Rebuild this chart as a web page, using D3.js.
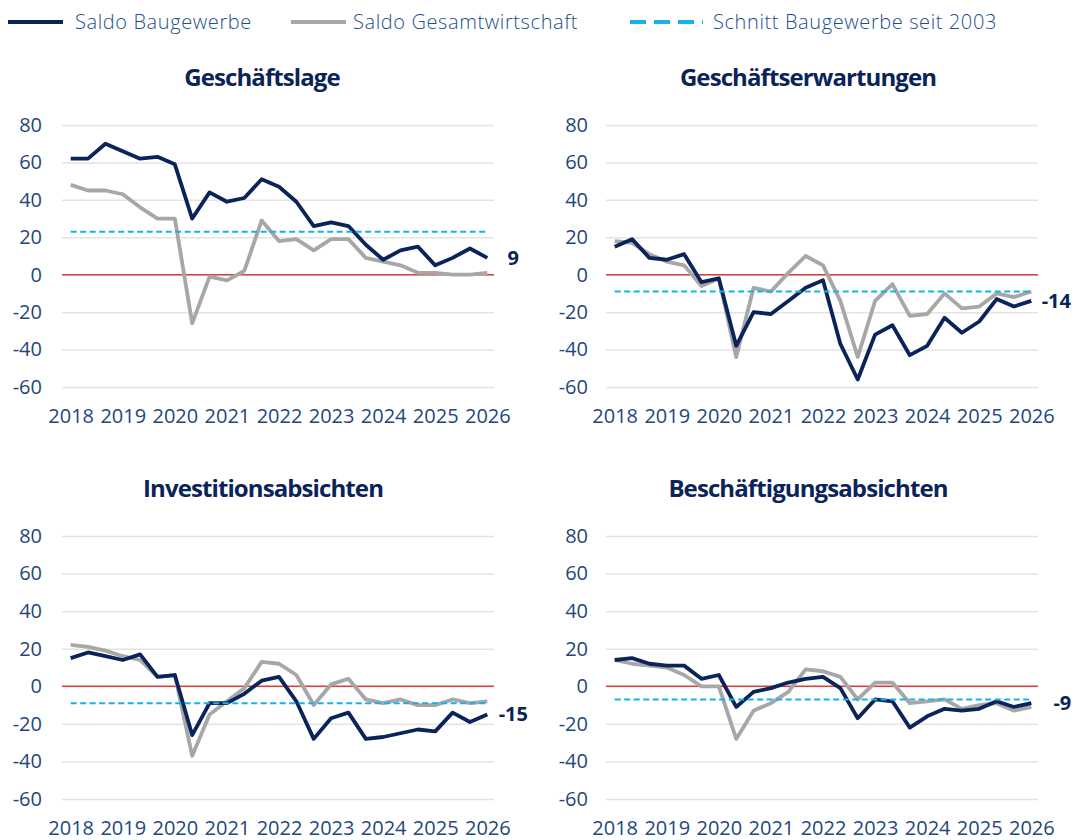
<!DOCTYPE html>
<html>
<head>
<meta charset="utf-8">
<script src="https://cdn.jsdelivr.net/npm/d3@7"></script>
<style>
  body { margin: 0; background: #fff; }
  svg text { font-family: "Open Sans", sans-serif; }
</style>
</head>
<body>
<div id="vis"></div>
<script>
// Survey waves: 3 per year (start of year, early summer, autumn), 2018 to start of 2026
var periods = [];
for (var yr = 2018; yr <= 2026; yr++) {
    periods.push(yr + "-1");
    if (yr < 2026) { periods.push(yr + "-2"); periods.push(yr + "-3"); }
}
var yearTicks = ["2018","2019","2020","2021","2022","2023","2024","2025","2026"];
var yTicks = [80, 60, 40, 20, 0, -20, -40, -60];

var titles = ["Geschäftslage", "Geschäftserwartungen", "Investitionsabsichten", "Beschäftigungsabsichten"];
var legendLabels = ["Saldo Baugewerbe", "Saldo Gesamtwirtschaft", "Schnitt Baugewerbe seit 2003"];

// Saldo Baugewerbe
var lageBau = [62,62,70,66,62,63,59,30,44,39,41,51,47,39,26,28,26,16,8,13,15,5,9,14,9];
var erwBau  = [15,19,9,8,11,-4,-2,-38,-20,-21,-14,-7,-3,-37,-56,-32,-27,-43,-38,-23,-31,-25,-13,-17,-14];
var invBau  = [15,18,16,14,17,5,6,-26,-9,-9,-4,3,5,-8,-28,-17,-14,-28,-27,-25,-23,-24,-14,-19,-15];
var beschBau = [14,15,12,11,11,4,6,-11,-3,-1,2,4,5,-1,-17,-7,-8,-22,-16,-12,-13,-12,-8,-11,-9];

// Saldo Gesamtwirtschaft
var lageGes = [48,45,45,43,36,30,30,-26,-1,-3,2,29,18,19,13,19,19,9,7,5,1,1,0,0,1];
var erwGes  = [18,17,11,7,5,-6,-2,-44,-7,-9,1,10,5,-14,-44,-14,-5,-22,-21,-10,-18,-17,-10,-12,-9];
var invGes  = [22,21,19,16,14,5,6,-37,-15,-8,-1,13,12,6,-10,1,4,-7,-9,-7,-10,-10,-7,-9,-8];
var beschGes = [14,12,11,10,6,0,0,-28,-13,-9,-3,9,8,5,-7,2,2,-9,-8,-7,-12,-10,-9,-13,-11];

// Schnitt Baugewerbe seit 2003
var avgBau = [23, -9, -9, -7];

var navyData = [lageBau, erwBau, invBau, beschBau];
var grayData = [lageGes, erwGes, invGes, beschGes];

var width = 1072, height = 840;
var navy = "#0a2459", gray = "#a7a7a7", cyan = "#17b2e6", red = "#d9403d",
    grid = "#e3e3e3", tickColor = "#24477a";

var svg = d3.select("#vis").append("svg")
    .attr("width", width)
    .attr("height", height);

// panel frames: gridline extents, plot top/bottom, end-label offset
var panels = [
    {x0: 62, x1: 496, top: 125, bottom: 387, labelX: 42, titleX: 262, titleY: 86, endDx: 26},
    {x0: 606, x1: 1040, top: 125, bottom: 387, labelX: 588, titleX: 808, titleY: 86, endDx: 25},
    {x0: 62, x1: 496, top: 536, bottom: 799, labelX: 42, titleX: 263, titleY: 497, endDx: 26},
    {x0: 606, x1: 1040, top: 536, bottom: 799, labelX: 588, titleX: 808, titleY: 497, endDx: 31}
];

panels.forEach(function(p, i) {
    var x = d3.scalePoint().domain(periods).range([p.x0, p.x1]).padding(0.5);
    var y = d3.scaleLinear().domain([-60, 80]).range([p.bottom, p.top]);
    var g = svg.append("g");

    // gridlines + y labels
    var yAxis = g.append("g")
        .attr("transform", "translate(" + p.x0 + ",0)")
        .call(d3.axisLeft(y).tickValues(yTicks).tickSize(-(p.x1 - 2 - p.x0))
            .tickPadding(p.x0 - p.labelX).tickFormat(function(d) { return String(d); }));
    yAxis.select(".domain").remove();
    yAxis.selectAll("line").attr("stroke", grid).attr("stroke-width", 1.5);
    yAxis.selectAll("text").attr("fill", tickColor).attr("font-size", 20)
        .attr("font-family", "Open Sans");

    // x labels
    var xAxis = g.append("g")
        .attr("transform", "translate(0," + p.bottom + ")")
        .call(d3.axisBottom(x).tickValues(yearTicks.map(function(t) { return t + "-1"; }))
            .tickSize(0).tickPadding(22).tickFormat(function(d) { return d.split("-")[0]; }));
    xAxis.select(".domain").remove();
    xAxis.selectAll("text").attr("fill", tickColor).attr("font-size", 20)
        .attr("font-family", "Open Sans");

    // zero line
    g.append("line")
        .attr("x1", p.x0).attr("x2", p.x1 - 2)
        .attr("y1", y(0)).attr("y2", y(0))
        .attr("stroke", red).attr("stroke-width", 1.5);

    var line = d3.line()
        .x(function(d, j) { return x(periods[j]); })
        .y(function(d) { return y(d); });

    g.append("path")
        .datum(grayData[i])
        .attr("fill", "none").attr("stroke", gray).attr("stroke-width", 3.8)
        .attr("stroke-linejoin", "round")
        .attr("d", line);

    g.append("path")
        .datum(navyData[i])
        .attr("fill", "none").attr("stroke", navy).attr("stroke-width", 3.8)
        .attr("stroke-linejoin", "round")
        .attr("d", line);

    g.append("line")
        .attr("x1", x(periods[0])).attr("x2", x(periods[periods.length - 1]))
        .attr("y1", y(avgBau[i])).attr("y2", y(avgBau[i]))
        .attr("stroke", cyan).attr("stroke-width", 2)
        .attr("stroke-dasharray", "6,3.5");

    // last value label
    var last = navyData[i][navyData[i].length - 1];
    g.append("text")
        .attr("x", x(periods[periods.length - 1]) + p.endDx)
        .attr("y", y(last))
        .attr("dy", "0.35em")
        .attr("text-anchor", "middle")
        .attr("fill", navy)
        .attr("font-size", 20)
        .attr("font-weight", 700)
        .attr("font-family", "Roboto")
        .text(last < 0 ? "-" + Math.abs(last) : String(last));

    // title
    g.append("text")
        .attr("x", p.titleX).attr("y", p.titleY)
        .attr("text-anchor", "middle")
        .attr("fill", navy)
        .attr("font-size", 24)
        .attr("font-weight", 700)
        .attr("font-family", "Roboto")
        .attr("letter-spacing", -0.9)
        .text(titles[i]);
});

// legend
var legend = svg.append("g").attr("class", "legend");
var legendItems = [
    {x1: 8, x2: 63, tx: 75, color: navy, w: 4, dash: null},
    {x1: 291, x2: 346, tx: 353, color: gray, w: 4, dash: null},
    {x1: 630, x2: 703, tx: 713, color: cyan, w: 4, dash: "16,8"}
];
legendItems.forEach(function(l, i) {
    legend.append("line")
        .attr("x1", l.x1).attr("x2", l.x2).attr("y1", 22).attr("y2", 22)
        .attr("stroke", l.color).attr("stroke-width", l.w)
        .attr("stroke-dasharray", l.dash);
    legend.append("text")
        .attr("x", l.tx).attr("y", 22).attr("dy", "0.35em")
        .attr("fill", "#1d4f8a")
        .attr("font-size", 20)
        .attr("font-weight", 300)
        .attr("letter-spacing", 0.6)
        .text(legendLabels[i]);
});
</script>
</body>
</html>
